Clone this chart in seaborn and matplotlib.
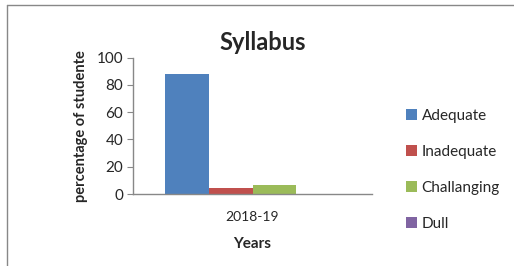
import matplotlib
matplotlib.use("Agg")
import matplotlib.pyplot as plt
import seaborn as sns
import pandas as pd
from matplotlib.lines import Line2D
from matplotlib.patches import Patch

years = ["2018-19"]
categories = ["Adequate", "Inadequate", "Challanging", "Dull"]
values = [88, 4.5, 6.5, 0]
colors = ["#4F81BD", "#C0504D", "#9BBB59", "#8064A2"]
yticks = [0, 20, 40, 60, 80, 100]

df = pd.DataFrame({"year": years * len(categories), "category": categories, "value": values})

sns.set_style("white")
plt.rcParams["font.family"] = ["Lato", "DejaVu Sans"]

fig = plt.figure(figsize=(5.14, 2.66), dpi=100)
ax = fig.add_axes([133/514, 1-194/266, (372-133)/514, (194-57.7)/266])

sns.barplot(data=df, x="year", y="value", hue="category", palette=colors,
            hue_order=categories, width=0.736, saturation=1, ax=ax, legend=False,
            linewidth=0, edgecolor="none")

ax.set_xlim(-0.5, 0.5)
ax.set_ylim(0, 100)
ax.set_yticks(yticks)
ax.tick_params(axis="y", labelsize=11, length=4, direction="out", color="#888888", left=True, pad=3)
ax.tick_params(axis="x", labelsize=10, length=0, pad=12)
for s in ["top", "right"]:
    ax.spines[s].set_visible(False)
for s in ["left", "bottom"]:
    ax.spines[s].set_color("#888888")
    ax.spines[s].set_linewidth(1)

ax.set_xlabel("Years", fontsize=11, fontweight="bold", labelpad=10)
ax.set_ylabel("percentage of studente", fontsize=10.5, fontweight="bold", labelpad=6)
fig.text(263/514, 1-43/266, "Syllabus", ha="center", va="center", fontsize=17, fontweight="bold")

handles = [Patch(facecolor=c, edgecolor="none") for c in colors]
fig.legend(handles, categories, loc="upper left", bbox_to_anchor=(398/514, 1-101/266),
           frameon=False, fontsize=11, handlelength=0.75, handleheight=0.75,
           handletextpad=0.3, labelspacing=1.45, borderpad=0)

fig.add_artist(Line2D([7/514, 1], [1-5/266, 1-5/266], color="#888888", lw=1))
fig.add_artist(Line2D([7/514, 7/514], [0, 1-5/266], color="#888888", lw=1))

fig.savefig("out.png", dpi=100)
